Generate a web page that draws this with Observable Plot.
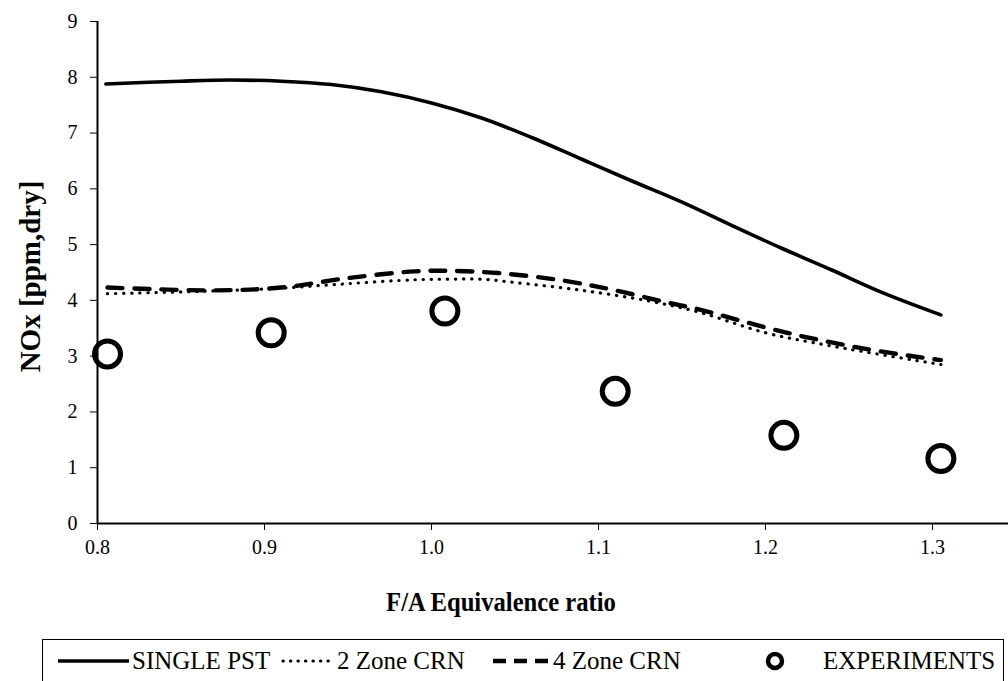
<!DOCTYPE html>
<html>
<head>
<meta charset="utf-8">
<script src="https://cdn.jsdelivr.net/npm/d3@7"></script>
<script src="https://cdn.jsdelivr.net/npm/@observablehq/plot@0.6"></script>
<style>
  html, body { margin: 0; padding: 0; background: #fff; }
  #wrap { position: relative; width: 1008px; height: 681px; overflow: hidden; font-family: "Liberation Serif", serif; }
  #chart svg, #chart svg text { font-family: "Liberation Serif", serif !important; }
  #legend { position: absolute; left: 42px; top: 639px; width: 962px; height: 60px; border: 1.6px solid #000; box-sizing: border-box; }
  #legend .it { position: absolute; top: 6px; height: 30px; display: flex; align-items: center; font-size: 25px; color: #000; white-space: nowrap; }
  #legend .sym { position: absolute; top: 6px; }
</style>
</head>
<body>
<div id="wrap">
  <div id="chart"></div>
  <div id="legend"></div>
</div>
<script>
// ---- Data ----
const singleX = [0.805, 0.85, 0.88, 0.91, 0.94, 0.97, 1.00, 1.03, 1.06, 1.09, 1.12, 1.15, 1.18, 1.21, 1.24, 1.27, 1.305];
const singleY = [7.88, 7.93, 7.95, 7.93, 7.87, 7.74, 7.54, 7.27, 6.92, 6.53, 6.14, 5.76, 5.34, 4.93, 4.54, 4.14, 3.74];

const zone2X = [0.806, 0.87, 0.91, 0.95, 0.99, 1.01, 1.03, 1.05, 1.09, 1.13, 1.16, 1.20, 1.24, 1.305];
const zone2Y = [4.12, 4.17, 4.22, 4.30, 4.37, 4.38, 4.38, 4.32, 4.18, 3.99, 3.79, 3.42, 3.18, 2.85];

const zone4X = [0.806, 0.87, 0.91, 0.95, 0.99, 1.01, 1.04, 1.08, 1.11, 1.14, 1.16, 1.21, 1.26, 1.305];
const zone4Y = [4.23, 4.18, 4.23, 4.40, 4.52, 4.53, 4.49, 4.35, 4.18, 3.97, 3.84, 3.44, 3.13, 2.93];

const expX = [0.806, 0.904, 1.008, 1.110, 1.211, 1.305];
const expY = [3.04, 3.42, 3.81, 2.37, 1.58, 1.165];

const xTicks = [0.8, 0.9, 1.0, 1.1, 1.2, 1.3];
const yTicks = [0, 1, 2, 3, 4, 5, 6, 7, 8, 9];
const seriesNames = ["SINGLE PST", "2 Zone CRN", "4 Zone CRN", "EXPERIMENTS"];
const xLabel = "F/A Equivalence ratio";
const yLabel = "NOx [ppm,dry]";

const zip = (xs, ys) => xs.map((x, i) => ({x, y: ys[i]}));
const single = zip(singleX, singleY);
const zone2 = zip(zone2X, zone2Y);
const zone4 = zip(zone4X, zone4Y);
const exp = zip(expX, expY);

const serif = "Liberation Serif, serif";

const chart = Plot.plot({
  width: 1008,
  height: 681,
  marginLeft: 97,
  marginRight: 0,
  marginTop: 21,
  marginBottom: 158,
  style: { fontFamily: serif, fontSize: "20px", color: "#000", background: "#fff" },
  x: { domain: [0.8, 1.3455], ticks: xTicks, tickFormat: d3.format(".1f"), tickSize: 7, tickPadding: 9, label: null },
  y: { domain: [0, 9], ticks: yTicks, tickSize: 7, tickPadding: 13, label: null },
  marks: [
    Plot.ruleY([0], {stroke: "#000", strokeWidth: 2}),
    Plot.ruleX([0.8], {stroke: "#000", strokeWidth: 2}),
    Plot.line(single, {x: "x", y: "y", curve: "catmull-rom", stroke: "#000", strokeWidth: 3.6}),
    Plot.line(zone2, {x: "x", y: "y", curve: "catmull-rom", stroke: "#000", strokeWidth: 3.2, strokeDasharray: "0.3,7.8", strokeLinecap: "round"}),
    Plot.line(zone4, {x: "x", y: "y", curve: "catmull-rom", stroke: "#000", strokeWidth: 4.4, strokeDasharray: "15,12"}),
    Plot.dot(exp, {x: "x", y: "y", r: 13, stroke: "#000", strokeWidth: 5, fill: "none"}),
    Plot.text([xLabel], {frameAnchor: "bottom", dx: -52, dy: 87, text: d => d, fontSize: 28, fontWeight: "bold", fontFamily: serif, fill: "#000", textAnchor: "middle"}),
    Plot.text([yLabel], {frameAnchor: "left", dx: -67, dy: 4, rotate: -90, text: d => d, fontSize: 29, fontWeight: "bold", fontFamily: serif, fill: "#000", textAnchor: "middle"})
  ]
});
document.getElementById("chart").appendChild(chart);
// slightly condensed x-axis title, as in the reference
d3.select(chart).selectAll("text").filter(function() { return this.textContent === xLabel; })
  .attr("transform", function() { return (this.getAttribute("transform") || "") + " scale(0.88,1)"; });

// ---- Legend ----
const legend = document.getElementById("legend");
const ns = "http://www.w3.org/2000/svg";
const sym = [
  {x0: 15, x1: 86, dash: null, width: 3.6},
  {x0: 240, x1: 291, dash: "0.3,7.2", width: 3.2, cap: "round"},
  {x0: 450, x1: 507, dash: "13,8", width: 4.4}
];
const textLeft = [89, 294, 510, 780];
const svg = document.createElementNS(ns, "svg");
svg.setAttribute("class", "sym");
svg.setAttribute("width", 960); svg.setAttribute("height", 30);
svg.style.left = "0px";
for (const s of sym) {
  const l = document.createElementNS(ns, "line");
  l.setAttribute("x1", s.x0); l.setAttribute("x2", s.x1); l.setAttribute("y1", 15); l.setAttribute("y2", 15);
  l.setAttribute("stroke", "#000"); l.setAttribute("stroke-width", s.width);
  if (s.dash) l.setAttribute("stroke-dasharray", s.dash);
  if (s.cap) l.setAttribute("stroke-linecap", s.cap);
  svg.appendChild(l);
}
const c = document.createElementNS(ns, "circle");
c.setAttribute("cx", 732); c.setAttribute("cy", 15); c.setAttribute("r", 7);
c.setAttribute("fill", "none"); c.setAttribute("stroke", "#000"); c.setAttribute("stroke-width", 4.5);
svg.appendChild(c);
legend.appendChild(svg);
seriesNames.forEach((name, i) => {
  const div = document.createElement("div");
  div.className = "it";
  div.style.left = textLeft[i] + "px";
  div.textContent = name;
  legend.appendChild(div);
});
</script>
</body>
</html>
